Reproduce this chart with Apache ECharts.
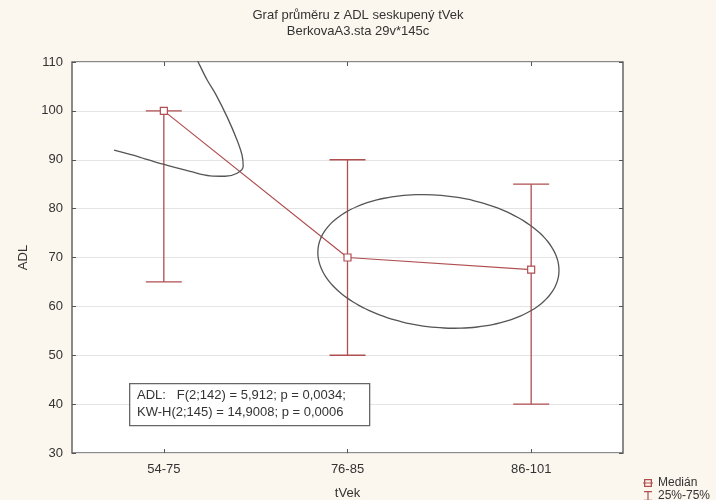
<!DOCTYPE html>
<html>
<head>
<meta charset="utf-8">
<script src="https://cdn.jsdelivr.net/npm/echarts@6/dist/echarts.min.js"></script>
<style>
  html, body { margin: 0; padding: 0; background: #fcf7ee; }
  #chart { width: 716px; height: 500px; }
</style>
</head>
<body>
<div id="chart"></div>
<script>
// skupiny veku
var categories = ['54-75', '76-85', '86-101']
// median ADL
var medians = [100, 70, 67.5]
// kvartily 25% - 75%
var q25 = [65, 50, 40]
var q75 = [100, 90, 85]
// rucne dokreslene poznamky (x v jednotkach kategorii, y v ADL)
var ellipseNote = [[2.495, 69.2, 0.659, 13.5, 6]] // stred x, stred y, polomer x, polomer y, natoceni
var curveNote = [
  [0.729, 91.95], [0.871, 90.51], [0.996, 89.08], [1.143, 87.64], [1.252, 86.72],
  [1.334, 86.62], [1.399, 87.23], [1.432, 88.67], [1.426, 90.92], [1.399, 94.0],
  [1.345, 98.72], [1.285, 103.23], [1.236, 106.31], [1.187, 110], [1.143, 113.5]
]

var red = '#b04e50'
var ink = '#333'

var chart = echarts.init(document.getElementById('chart'))

var barData = categories.map(function (c, i) {
  return [i, q25[i], q75[i]]
})

var option = {
  backgroundColor: '#fcf7ee',
  animation: false,
  textStyle: { fontFamily: 'Liberation Sans, Arial, sans-serif' },
  title: {
    text: 'Graf průměru z ADL seskupený tVek\nBerkovaA3.sta 29v*145c',
    left: 'center',
    top: 2,
    textStyle: { fontSize: 13, fontWeight: 'normal', color: ink, lineHeight: 16 }
  },
  legend: {
    orient: 'vertical',
    left: 643,
    top: 477,
    height: 40,
    padding: 0,
    itemWidth: 10,
    itemHeight: 10,
    itemGap: 1,
    selectedMode: false,
    textStyle: { fontSize: 12, color: ink },
    data: [
      {
        name: 'Medián',
        icon: 'path://M1,1H9V9H1Z M2.3,2.3V7.7H7.7V2.3Z M0,4.4H10V5.6H0Z',
        itemStyle: { color: red, borderWidth: 0 }
      },
      {
        name: '25%-75%',
        icon: 'path://M1,0H9V1.2H1Z M4.4,0H5.6V10H4.4Z M1,8.8H9V10H1Z',
        itemStyle: { color: red, borderWidth: 0 }
      }
    ]
  },
  grid: {
    left: 72,
    right: 93,
    top: 62,
    bottom: 47,
    outerBoundsMode: 'none',
    containLabel: false,
    show: true,
    backgroundColor: '#fff',
    borderColor: '#666',
    borderWidth: 1.5
  },
  xAxis: [
    {
      type: 'category',
      data: categories,
      name: 'tVek',
      nameLocation: 'middle',
      nameGap: 34,
      nameTextStyle: { fontSize: 13, color: ink },
      axisLine: { show: false },
      axisTick: { show: true, inside: true, alignWithLabel: true, length: 4, lineStyle: { color: '#555' } },
      axisLabel: { fontSize: 13, color: ink, margin: 10 },
      splitLine: { show: false }
    },
    {
      type: 'category',
      data: categories,
      position: 'top',
      axisLine: { show: false },
      axisTick: { show: true, inside: true, alignWithLabel: true, length: 4, lineStyle: { color: '#555' } },
      axisLabel: { show: false }
    },
    {
      type: 'value',
      min: 0.5,
      max: 3.5,
      show: false
    }
  ],
  yAxis: [
    {
      type: 'value',
      min: 30,
      max: 110,
      interval: 10,
      name: 'ADL',
      nameLocation: 'middle',
      nameGap: 40,
      nameRotate: 90,
      nameTextStyle: { fontSize: 13, color: ink },
      axisLine: { show: false },
      axisTick: { show: true, inside: true, length: 4, lineStyle: { color: '#555' } },
      axisLabel: { fontSize: 13, color: ink, margin: 9 },
      splitLine: { show: true, lineStyle: { color: '#e4e4e4', width: 1 } }
    },
    {
      type: 'value',
      min: 30,
      max: 110,
      interval: 10,
      position: 'right',
      axisLine: { show: false },
      axisTick: { show: true, inside: true, length: 4, lineStyle: { color: '#555' } },
      axisLabel: { show: false },
      splitLine: { show: false }
    }
  ],
  series: [
    {
      name: '25%-75%',
      type: 'custom',
      xAxisIndex: 0,
      itemStyle: { color: red },
      encode: { x: 0, y: [1, 2] },
      data: barData,
      renderItem: function (params, api) {
        var lo = api.coord([api.value(0), api.value(1)])
        var hi = api.coord([api.value(0), api.value(2)])
        var half = 18
        var st = { stroke: red, lineWidth: 1.3 }
        return {
          type: 'group',
          children: [
            { type: 'line', shape: { x1: lo[0], y1: lo[1], x2: hi[0], y2: hi[1] }, style: st },
            { type: 'line', shape: { x1: hi[0] - half, y1: hi[1], x2: hi[0] + half, y2: hi[1] }, style: st },
            { type: 'line', shape: { x1: lo[0] - half, y1: lo[1], x2: lo[0] + half, y2: lo[1] }, style: st }
          ]
        }
      },
      z: 2
    },
    {
      name: 'Medián',
      type: 'line',
      xAxisIndex: 0,
      data: medians,
      symbol: 'rect',
      symbolSize: 7,
      itemStyle: { color: '#fff', borderColor: red, borderWidth: 1.2 },
      lineStyle: { color: red, width: 1.2 },
      z: 3
    },
    {
      name: 'elipsa',
      type: 'custom',
      xAxisIndex: 2,
      silent: true,
      data: ellipseNote,
      renderItem: function (params, api) {
        var c = api.coord([api.value(0), api.value(1)])
        var s = api.size([api.value(2), api.value(3)])
        var rot = api.value(4) * Math.PI / 180
        var pts = []
        for (var k = 0; k < 90; k++) {
          var t = k / 90 * Math.PI * 2
          var ex = s[0] * Math.cos(t)
          var ey = s[1] * Math.sin(t)
          pts.push([
            c[0] + ex * Math.cos(rot) - ey * Math.sin(rot),
            c[1] + ex * Math.sin(rot) + ey * Math.cos(rot)
          ])
        }
        return {
          type: 'polygon',
          shape: { points: pts, smooth: 0.3 },
          style: { fill: 'none', stroke: '#555', lineWidth: 1.3 }
        }
      },
      z: 4
    },
    {
      name: 'krivka',
      type: 'line',
      xAxisIndex: 2,
      data: curveNote,
      smooth: 0.35,
      showSymbol: false,
      silent: true,
      clip: true,
      lineStyle: { color: '#555', width: 1.3 },
      z: 4
    }
  ],
  graphic: [
    {
      type: 'rect',
      left: 129,
      top: 383,
      z: 100,
      shape: { width: 240, height: 42 },
      style: { fill: '#fff', stroke: '#666', lineWidth: 1.3 }
    },
    {
      type: 'text',
      left: 137,
      top: 387,
      z: 101,
      style: {
        text: 'ADL:   F(2;142) = 5,912; p = 0,0034;\nKW-H(2;145) = 14,9008; p = 0,0006',
        font: '13px "Liberation Sans", Arial, sans-serif',
        fill: ink,
        lineHeight: 17
      }
    }
  ]
}

chart.setOption(option)
</script>
</body>
</html>
